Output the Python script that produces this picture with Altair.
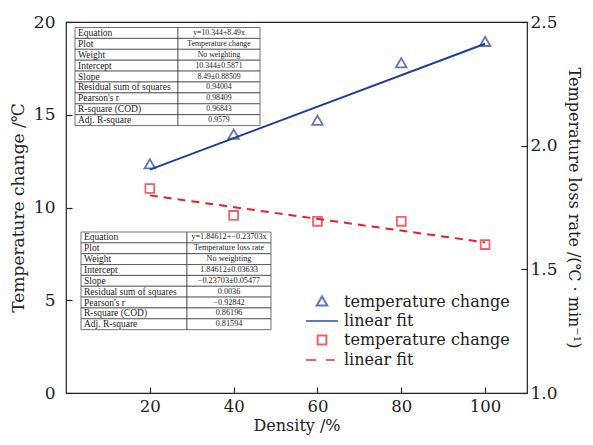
import altair as alt
import pandas as pd

# ---------------- data ----------------
density = [20, 40, 60, 80, 100]
temp_change = [12.3, 13.9, 14.65, 17.75, 18.9]
loss_rate = [1.827, 1.718, 1.694, 1.694, 1.600]

fit_x = [20, 100]
fit_temp = [12.04, 18.83]
fit_loss = [1.799, 1.609]

legend_keys = ["a", "b", "c", "d"]
legend_labels = ["temperature change", "linear fit", "temperature change", "linear fit"]

table_labels = ["Equation", "Plot", "Weight", "Intercept", "Slope",
                "Residual sum of squares", "Pearson's r", "R-square (COD)", "Adj. R-square"]
table1_values = ["y=10.344+8.49x", "Temperature change", "No weighting",
                 "10.344\u00b10.5871", "8.49\u00b10.88509", "0.94004", "0.98409",
                 "0.96843", "0.9579"]
table2_values = ["y=1.84612+\u22120.23703x", "Temperature loss rate", "No weighting",
                 "1.84612\u00b10.03633", "\u22120.23703\u00b10.05477", "0.0036",
                 "\u22120.92842", "0.86196", "0.81594"]

BLUE = "#1f3f95"
RED = "#e3202c"
SERIF = "DejaVu Serif"
TSERIF = "Liberation Serif"

pts_blue = pd.DataFrame({"x": density, "y": temp_change, "key": "a"})
pts_red = pd.DataFrame({"x": density, "y": loss_rate, "key": "c"})
line_blue = pd.DataFrame({"x": fit_x, "y": fit_temp, "key": "b"})
line_red = pd.DataFrame({"x": fit_x, "y": fit_loss, "key": "d"})

label_expr = "+".join(
    [f"(datum.value == '{k}' ? '{l}' : '')" for k, l in zip(legend_keys, legend_labels)]
)

SYM = 256  # symbol size: unit = sqrt(SYM)/2 = 8 px
color_scale = alt.Scale(domain=legend_keys, range=[BLUE, BLUE, RED, RED])
shape_scale = alt.Scale(
    domain=legend_keys,
    range=[
        "M0,-0.7L0.66,0.45L-0.66,0.45Z",
        "M-2,0L2,0",
        "M-0.55,-0.55H0.55V0.55H-0.55Z",
        "M-2,0L-0.75,0M0.5,0L1.6,0",
    ],
)
legend = alt.Legend(
    title=None, orient="none", legendX=247, legendY=271, labelExpr=label_expr,
    labelFont=SERIF, labelFontSize=16, labelColor="#222", symbolSize=SYM,
    symbolStrokeWidth=2, rowPadding=2, labelOffset=13, padding=0, labelLimit=300,
)

x_enc = alt.X("x:Q", scale=alt.Scale(domain=[0, 110], nice=False),
              axis=alt.Axis(values=[20, 40, 60, 80, 100], title="Density /%",
                            offset=-6, tickSize=6, domain=False, grid=False,
                            labelPadding=5, titlePadding=3, labelFontSize=16.5,
                            titleFontSize=16))

left_y = alt.Y("y:Q", scale=alt.Scale(domain=[0, 20], nice=False),
               axis=alt.Axis(values=[0, 5, 10, 15, 20], title="Temperature change /\u2103",
                             offset=-6, tickSize=6, domain=False, grid=False,
                             labelPadding=11, titlePadding=6))
right_y = alt.Y("y:Q", scale=alt.Scale(domain=[1.0, 2.5], nice=False),
                axis=alt.Axis(values=[1.0, 1.5, 2.0, 2.5], format=".1f", orient="right",
                              title="Temperature loss rate /(\u2103 \u00b7 min\u207b\u00b9)",
                              offset=-6, tickSize=6, domain=False, grid=False,
                              labelPadding=3, titlePadding=8, titleFontSize=16))

blue_pts = alt.Chart(pts_blue).mark_point(filled=False, strokeWidth=1.8, size=SYM).encode(
    x=x_enc, y=left_y,
    color=alt.Color("key:N", scale=color_scale, legend=legend),
    shape=alt.Shape("key:N", scale=shape_scale, legend=legend),
)
blue_line = alt.Chart(line_blue).mark_line(strokeWidth=2, color=BLUE).encode(
    x=x_enc, y=left_y,
)
red_pts = alt.Chart(pts_red).mark_point(filled=False, strokeWidth=1.8, size=SYM).encode(
    x=x_enc, y=right_y,
    color=alt.Color("key:N", scale=color_scale, legend=legend),
    shape=alt.Shape("key:N", scale=shape_scale, legend=legend),
)
red_line = alt.Chart(line_red).mark_line(strokeWidth=2, strokeDash=[8, 6], color=RED).encode(
    x=x_enc, y=right_y,
)


def table_layers(values, x0, xd, x1, y0, rh, vsize):
    n = len(table_labels)
    rows = pd.DataFrame({
        "label": table_labels,
        "value": values,
        "y0": [y0 + i * rh for i in range(n)],
        "y1": [y0 + (i + 1) * rh for i in range(n)],
        "ym": [y0 + (i + 0.5) * rh for i in range(n)],
    })
    rows["xa"] = x0
    rows["xd"] = xd
    rows["xb"] = x1
    rows["xl"] = x0 + 3
    rows["xv"] = (xd + x1) / 2
    base = alt.Chart(rows)
    cell1 = base.mark_rect(fill="white", stroke="#333", strokeWidth=0.7).encode(
        x=alt.X("xa:Q", scale=None), x2="xd:Q",
        y=alt.Y("y0:Q", scale=None), y2="y1:Q")
    cell2 = base.mark_rect(fill="white", stroke="#333", strokeWidth=0.7).encode(
        x=alt.X("xd:Q", scale=None), x2="xb:Q",
        y=alt.Y("y0:Q", scale=None), y2="y1:Q")
    lab = base.mark_text(align="left", baseline="middle", font=TSERIF, fontSize=9.5,
                         color="#222").encode(
        x=alt.X("xl:Q", scale=None), y=alt.Y("ym:Q", scale=None), text="label:N")
    val = base.mark_text(align="center", baseline="middle", font=TSERIF, fontSize=vsize,
                         color="#222").encode(
        x=alt.X("xv:Q", scale=None), y=alt.Y("ym:Q", scale=None), text="value:N")
    return [cell1, cell2, lab, val]


# table positions in pixels relative to plot area
t1 = table_layers(table1_values, 9, 112, 194, 5.5, 10.9, 7.8)
t2 = table_layers(table2_values, 15, 121, 205, 210, 10.85, 8.2)

left = alt.layer(blue_line, blue_pts)
right = alt.layer(red_line, red_pts)

chart = alt.layer(left, right, *t1, *t2).resolve_scale(y="independent").properties(
    width=461, height=371,
    autosize=alt.AutoSizeParams(type="none"),
    padding={"left": 58, "top": 14, "right": 58, "bottom": 44},
).configure_view(stroke="#222", strokeWidth=1.2).configure_axis(
    labelFont=SERIF, labelFontSize=17, labelColor="#222", titleFont=SERIF,
    titleFontSize=17, titleFontWeight="normal", titleColor="#222", tickColor="#222",
    tickWidth=1.2,
)

chart.save("out.html", embed_options={"renderer": "svg", "actions": False})
